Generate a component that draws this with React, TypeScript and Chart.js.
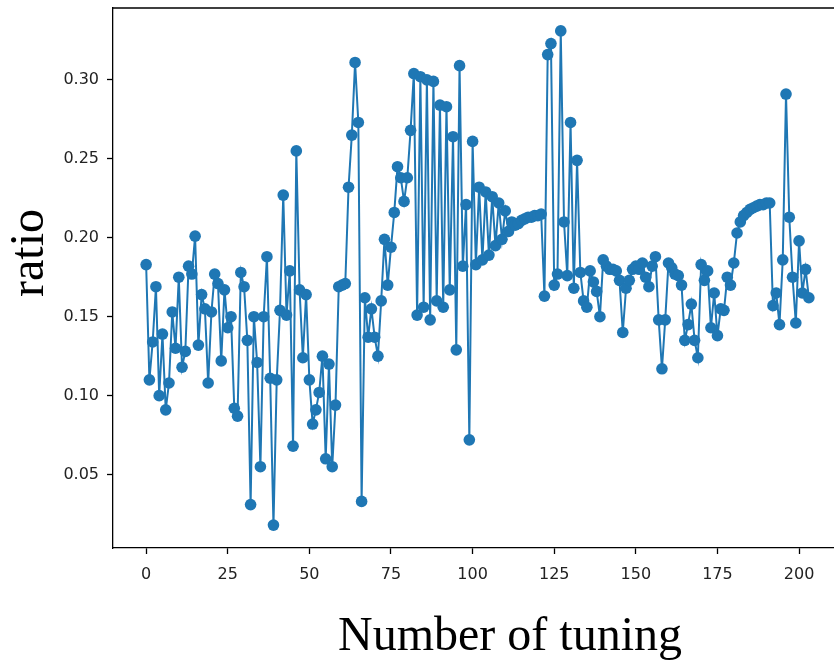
import React, { useEffect, useRef } from "react";
import { Chart, registerables } from "chart.js";

Chart.register(...registerables);

// ratio value for each tuning step (index = number of tuning)
const ratio: number[] = [
  0.183, 0.110, 0.134, 0.169, 0.100, 0.139, 0.091, 0.108, 0.153, 0.130,
  0.175, 0.118, 0.128, 0.182, 0.177, 0.201, 0.132, 0.164, 0.155, 0.108,
  0.153, 0.177, 0.171, 0.122, 0.167, 0.143, 0.150, 0.092, 0.087, 0.178,
  0.169, 0.135, 0.031, 0.150, 0.121, 0.055, 0.150, 0.188, 0.111, 0.018,
  0.110, 0.154, 0.227, 0.151, 0.179, 0.068, 0.255, 0.167, 0.124, 0.164,
  0.110, 0.082, 0.091, 0.102, 0.125, 0.060, 0.120, 0.055, 0.094, 0.169,
  0.170, 0.171, 0.232, 0.265, 0.311, 0.273, 0.033, 0.162, 0.137, 0.155,
  0.137, 0.125, 0.160, 0.199, 0.170, 0.194, 0.216, 0.245, 0.238, 0.223,
  0.238, 0.268, 0.304, 0.151, 0.302, 0.156, 0.300, 0.148, 0.299, 0.160,
  0.284, 0.156, 0.283, 0.167, 0.264, 0.129, 0.309, 0.182, 0.221, 0.072,
  0.261, 0.183, 0.232, 0.186, 0.229, 0.189, 0.226, 0.195, 0.222, 0.199,
  0.217, 0.204, 0.210, 0.208, 0.209, 0.211, 0.212, 0.213, 0.213, 0.214,
  0.214, 0.215, 0.163, 0.316, 0.323, 0.170, 0.177, 0.331, 0.210, 0.176,
  0.273, 0.168, 0.249, 0.178, 0.160, 0.156, 0.179, 0.172, 0.166, 0.150,
  0.186, 0.182, 0.180, 0.180, 0.179, 0.173, 0.140, 0.168, 0.173, 0.180,
  0.182, 0.180, 0.184, 0.175, 0.169, 0.182, 0.188, 0.148, 0.117, 0.148,
  0.184, 0.181, 0.177, 0.176, 0.170, 0.135, 0.145, 0.158, 0.135, 0.124,
  0.183, 0.173, 0.179, 0.143, 0.165, 0.138, 0.155, 0.154, 0.175, 0.170,
  0.184, 0.203, 0.210, 0.214, 0.216, 0.218, 0.219, 0.220, 0.221, 0.221,
  0.222, 0.222, 0.157, 0.165, 0.145, 0.186, 0.291, 0.213, 0.175, 0.146,
  0.198, 0.165, 0.180, 0.162,
];

const xTicks: number[] = [0, 25, 50, 75, 100, 125, 150, 175, 200];
const yTicks: number[] = [0.05, 0.1, 0.15, 0.2, 0.25, 0.3];
const xTitle = "Number of tuning";
const yTitle = "ratio";

const framePlugin = {
  id: "frameAndTitles",
  afterDraw(chart: any) {
    const { ctx, chartArea } = chart;
    ctx.save();
    ctx.strokeStyle = "#000";
    ctx.lineWidth = 1.3;
    ctx.beginPath();
    ctx.moveTo(chartArea.left, chartArea.top);
    ctx.lineTo(chartArea.right, chartArea.top);
    ctx.lineTo(chartArea.right, chartArea.bottom);
    ctx.stroke();

    ctx.fillStyle = "#000";
    ctx.font = "48px 'Liberation Serif', 'Times New Roman', serif";
    ctx.textAlign = "center";
    ctx.textBaseline = "alphabetic";
    ctx.fillText(xTitle, chartArea.left + 397, chartArea.bottom + 102);

    ctx.translate(chartArea.left - 70, chartArea.top + 245);
    ctx.rotate(-Math.PI / 2);
    ctx.fillText(yTitle, 0, 0);
    ctx.restore();
  },
};

export default function App() {
  const ref = useRef<HTMLCanvasElement | null>(null);

  useEffect(() => {
    if (!ref.current) return;
    const points = ratio.map((v, i) => ({ x: i, y: v }));
    const tickFont = { family: "'DejaVu Sans', sans-serif", size: 16 };
    const chart = new Chart(ref.current, {
      type: "line",
      data: {
        datasets: [
          {
            data: points,
            borderColor: "#1f77b4",
            backgroundColor: "#1f77b4",
            borderWidth: 2,
            pointRadius: 5.8,
            pointBorderWidth: 0,
            pointBackgroundColor: "#1f77b4",
            tension: 0,
          },
        ],
      },
      options: {
        responsive: false,
        animation: false,
        devicePixelRatio: 1,
        layout: { padding: { left: 0, top: 8, right: 18, bottom: 0 } },
        plugins: { legend: { display: false }, tooltip: { enabled: false } },
        scales: {
          x: {
            type: "linear",
            min: -10.15,
            max: 213.15,
            afterBuildTicks: (s: any) => {
              s.ticks = xTicks.map((v) => ({ value: v }));
            },
            afterFit: (s: any) => {
              s.height = 119;
              s.paddingLeft = 0;
              s.paddingRight = 0;
            },
            grid: { drawOnChartArea: false, drawTicks: true, tickLength: 6, color: "#000", tickWidth: 1.3 },
            border: { display: true, color: "#000", width: 1.3 },
            ticks: { font: tickFont, color: "#222", padding: 11, maxRotation: 0, autoSkip: false },
          },
          y: {
            type: "linear",
            min: 0.0035,
            max: 0.3455,
            afterBuildTicks: (s: any) => {
              s.ticks = yTicks.map((v) => ({ value: v }));
            },
            afterFit: (s: any) => {
              s.width = 113;
              s.paddingTop = 0;
              s.paddingBottom = 0;
            },
            grid: { drawOnChartArea: false, drawTicks: true, tickLength: 6, color: "#000", tickWidth: 1.3 },
            border: { display: true, color: "#000", width: 1.3 },
            ticks: {
              font: tickFont,
              color: "#222",
              padding: 8,
              autoSkip: false,
              callback: (v: any) => Number(v).toFixed(2),
            },
          },
        },
      },
      plugins: [framePlugin],
    });
    return () => chart.destroy();
  }, []);

  return (
    <div style={{ position: "fixed", left: 0, top: 0, width: 834, height: 667, overflow: "hidden", background: "#fff" }}>
      <canvas ref={ref} width={860} height={667} style={{ display: "block" }} />
    </div>
  );
}
